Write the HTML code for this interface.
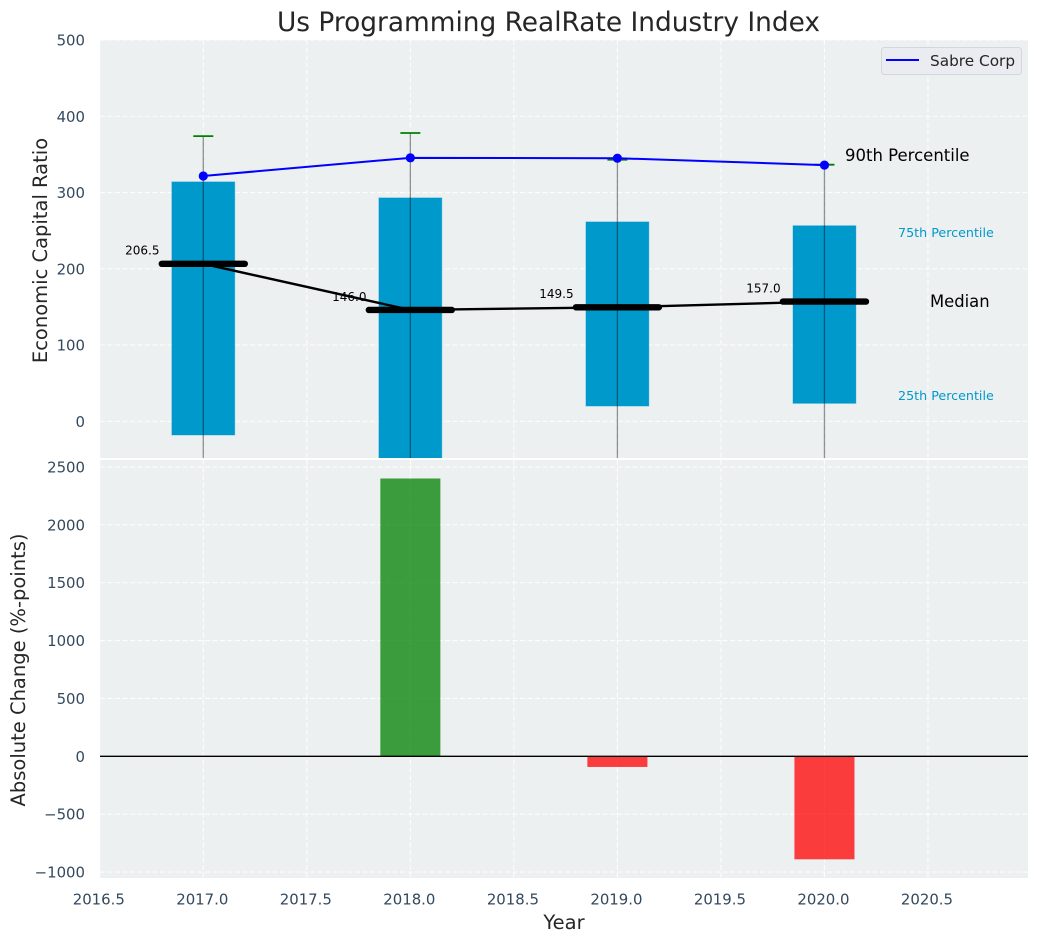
<!DOCTYPE html>
<html lang="en">
<head>
<meta charset="utf-8">
<title>Us Programming RealRate Industry Index</title>
<style>
html,body{margin:0;padding:0;background:#fff;}
svg{display:block;font-family:"DejaVu Sans","Liberation Sans",sans-serif;}
</style>
</head>
<body>
<svg id="chart" xmlns="http://www.w3.org/2000/svg" width="1039" height="942" viewBox="0 0 1039 942">
  <defs>
    <clipPath id="clip-top"><rect x="100" y="40" width="928" height="418"/></clipPath>
    <clipPath id="clip-bottom"><rect x="100" y="460" width="928" height="418"/></clipPath>
  </defs>
  <rect x="100" y="40" width="928" height="418" fill="#ecf0f1"/>
  <rect x="100" y="460" width="928" height="418" fill="#ecf0f1"/>
  <g id="grid"></g>
  <g id="top-marks" clip-path="url(#clip-top)"></g>
  <g id="bottom-marks" clip-path="url(#clip-bottom)"></g>
  <g id="labels"></g>
  <g id="ticks"></g>

  <text x="548.5" y="31" text-anchor="middle" font-size="26.4" fill="#262626">Us Programming RealRate Industry Index</text>
  <text transform="translate(47,250.5) rotate(-90)" text-anchor="middle" font-size="19.5" fill="#262626">Economic Capital Ratio</text>
  <text transform="translate(25,670) rotate(-90)" text-anchor="middle" font-size="19.5" fill="#262626">Absolute Change (%-points)</text>
  <text x="564" y="929" text-anchor="middle" font-size="19.5" fill="#262626">Year</text>

  <text x="845" y="161" font-size="16.5" fill="#000">90th Percentile</text>
  <text x="898" y="237" font-size="12.7" fill="#0099cc">75th Percentile</text>
  <text x="930" y="307" font-size="16.4" fill="#000">Median</text>
  <text x="898" y="400" font-size="12.7" fill="#0099cc">25th Percentile</text>

  <g>
    <rect x="881.5" y="47.5" width="140" height="27" rx="3" fill="#ebecf1" stroke="#d5d6da" stroke-width="1"/>
    <line x1="886" y1="60" x2="919" y2="60" stroke="#0000ff" stroke-width="2"/>
    <text x="930" y="66" font-size="15.3" fill="#262626">Sabre Corp</text>
  </g>
</svg>
<script>
const years = [2017, 2018, 2019, 2020];
const p90 = [374, 378, 343, 336.5];
const p75 = [314, 293, 261.5, 256.5];
const medians = [206.5, 146.0, 149.5, 157.0];
const p25 = [-18, -60, 20, 23.5];
const p10 = [-120, -150, -100, -100];
const sabreCorp = [321.7, 345.5, 345, 336];
const absoluteChange = [0, 2400, -92, -890];
const xTickLabels = [2016.5, 2017, 2017.5, 2018, 2018.5, 2019, 2019.5, 2020, 2020.5];
const topYTicks = [0, 100, 200, 300, 400, 500];
const bottomYTicks = [-1000, -500, 0, 500, 1000, 1500, 2000, 2500];

const NS = 'http://www.w3.org/2000/svg';
function xScale(v) { return 203.3 + (v - 2017) * 207.05; }
function yTop(v) { return 421.3 - v * 0.7626; }
function yBottom(v) { return 756.3 - v * 0.11575; }
function make(parent, tag, attrs, text) {
  const el = document.createElementNS(NS, tag);
  for (const k in attrs) el.setAttribute(k, attrs[k]);
  if (text !== undefined) el.textContent = text;
  parent.appendChild(el);
  return el;
}
const gridG = document.getElementById('grid');
const topG = document.getElementById('top-marks');
const botG = document.getElementById('bottom-marks');
const labelG = document.getElementById('labels');
const tickG = document.getElementById('ticks');
const gridStyle = { stroke: '#ffffff', 'stroke-width': 1.1, 'stroke-dasharray': '5 2.5', 'stroke-opacity': 0.85 };

function minusFmt(v) { return String(v).replace('-', '\u2212'); }

xTickLabels.forEach(function (t) {
  const x = xScale(t);
  let g = make(gridG, 'line', Object.assign({ x1: x, x2: x, y1: 40, y2: 458 }, gridStyle));
  
  
  g = make(gridG, 'line', Object.assign({ x1: x, x2: x, y1: 460, y2: 878 }, gridStyle));
  
  
  const lab = make(tickG, 'text', { x: x - 1, y: 904.5, 'text-anchor': 'middle', 'font-size': 14.9, fill: '#34495e' }, t.toFixed(1));
  
  
});
topYTicks.forEach(function (t) {
  const y = yTop(t);
  const g = make(gridG, 'line', Object.assign({ x1: 100, x2: 1028, y1: y, y2: y }, gridStyle));
  
  
  const lab = make(tickG, 'text', { x: 85, y: y + 5.5, 'text-anchor': 'end', 'font-size': 14.9, fill: '#34495e' }, String(t));
  
  
});
bottomYTicks.forEach(function (t) {
  const y = yBottom(t);
  const g = make(gridG, 'line', Object.assign({ x1: 100, x2: 1028, y1: y, y2: y }, gridStyle));
  
  
  const lab = make(tickG, 'text', { x: 85, y: y + 5.5, 'text-anchor': 'end', 'font-size': 14.9, fill: '#34495e' }, minusFmt(t));
  
  
});

/* percentile boxes */
years.forEach(function (yr, i) {
  const half = 0.152;
  const x0 = xScale(yr - half), x1 = xScale(yr + half);
  const box = make(topG, 'rect', { x: x0, y: yTop(p75[i]), width: x1 - x0, height: yTop(p25[i]) - yTop(p75[i]), fill: '#0099cc', stroke: '#0099cc', 'stroke-opacity': 0.35, 'stroke-width': 1 });
  
  
});
/* whiskers */
years.forEach(function (yr, i) {
  const x = xScale(yr);
  const wh = make(topG, 'line', { x1: x, x2: x, y1: yTop(p90[i]), y2: yTop(p10[i]), stroke: '#000', 'stroke-opacity': 0.42, 'stroke-width': 1.3 });
  
  
  const cap = make(topG, 'line', { x1: x - 10, x2: x + 10, y1: yTop(p90[i]), y2: yTop(p90[i]), stroke: '#008000', 'stroke-width': 1.8 });
  
  
});
/* median line */
const medianLine = make(topG, 'polyline', {
  points: years.map(function (yr, i) { return xScale(yr) + ',' + yTop(medians[i]); }).join(' '),
  fill: 'none', stroke: '#000', 'stroke-width': 2.4
});


years.forEach(function (yr, i) {
  const x = xScale(yr), y = yTop(medians[i]);
  const m = make(topG, 'line', { x1: x - 41.5, x2: x + 41.5, y1: y, y2: y, stroke: '#000', 'stroke-width': 6.4, 'stroke-linecap': 'round' });
  
  
  const t = make(labelG, 'text', { x: x - 61, y: y - 9.2, 'text-anchor': 'middle', 'font-size': 12, fill: '#000' }, medians[i].toFixed(1));
  
  
});
/* Sabre Corp series */
const sabreLine = make(topG, 'polyline', {
  points: years.map(function (yr, i) { return xScale(yr) + ',' + yTop(sabreCorp[i]); }).join(' '),
  fill: 'none', stroke: '#0000ff', 'stroke-width': 2
});


years.forEach(function (yr, i) {
  const c = make(topG, 'circle', { cx: xScale(yr), cy: yTop(sabreCorp[i]), r: 4.6, fill: '#0000ff' });
  
  
});
/* absolute change bars */
years.forEach(function (yr, i) {
  const v = absoluteChange[i];
  if (v === 0) return;
  const half = 0.145;
  const x0 = xScale(yr - half), x1 = xScale(yr + half);
  const y0 = yBottom(Math.max(v, 0)), y1 = yBottom(Math.min(v, 0));
  const b = make(botG, 'rect', { x: x0, y: y0, width: x1 - x0, height: y1 - y0, fill: v > 0 ? '#008000' : '#ff0000', 'fill-opacity': 0.75 });
  
  
});
const zero = make(botG, 'line', { x1: 100, x2: 1028, y1: yBottom(0), y2: yBottom(0), stroke: '#000', 'stroke-width': 1.3 });


</script>
</body>
</html>
